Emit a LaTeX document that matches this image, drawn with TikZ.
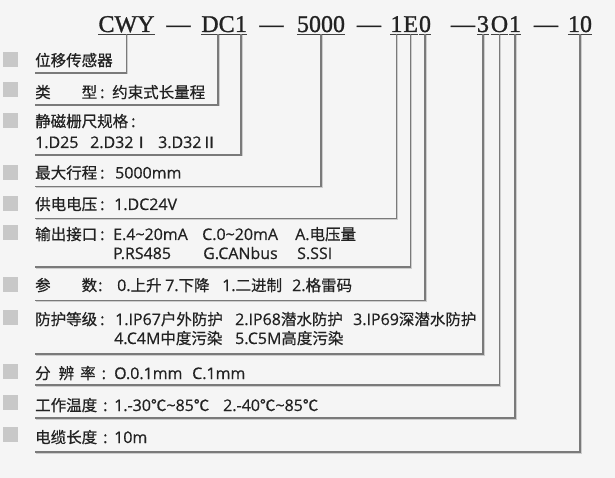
\documentclass[tikz,border=0pt]{standalone}
\usepackage{fontspec}
\setmainfont{Liberation Serif}[FakeBold=1.2]
\newfontfamily\cjk{Noto Sans CJK SC}[FakeBold=0.6]
\newfontfamily\latin{Open Sans}[Scale=1.03, FakeBold=0.6]
\newcommand{\zh}[1]{{\cjk #1}}
\definecolor{PageGray}{RGB}{245,245,245}
\definecolor{BoxGray}{RGB}{200,200,200}
\definecolor{LeadGray}{RGB}{122,122,122}
\definecolor{LeadShade}{RGB}{205,205,205}
\definecolor{InkGray}{RGB}{34,34,34}

\begin{document}
\begin{tikzpicture}[x=1pt, y=-1pt,
  code/.style={font=\fontsize{24}{24}\selectfont, text=InkGray, inner sep=0pt, text depth=2pt, anchor=base},
  spec/.style={font=\latin\fontsize{15.5}{18}\selectfont, text=InkGray, inner sep=0pt, anchor=base west},
  marker/.style={fill=BoxGray, minimum width=15pt, minimum height=15pt, inner sep=0pt},
  lead/.style={draw=LeadGray, line width=1.2pt, preaction={draw=LeadShade, line width=1.2pt, transform canvas={shift={(0.9pt,-0.9pt)}}}},
  uline/.style={draw=InkGray!85, line width=1pt}]
\pgfmathsetmacro{\xl}{35} % left end of the leads
\pgfmathsetmacro{\xv}{114} % x of the values
\pgfmathsetmacro{\yc}{32} % baseline of the code

\fill[PageGray] (0,0) rectangle (615,478); % page

% code on top
\node[code] (cwy) at (126.5,\yc) {CWY};
\node[code] (dashA) at (178.5,\yc) {—};
\node[code] (dc) at (218,\yc) {DC};
\node[code] (mag) at (241,\yc) {1};
\node[code] (dashB) at (271.5,\yc) {—};
\node[code] (stroke) at (321,\yc) {5000};
\node[code] (dashC) at (369,\yc) {—};
\node[code] (volt) at (396.5,\yc) {1};
\node[code] (iface) at (410.7,\yc) {E};
\node[code] (para) at (425,\yc) {0};
\node[code] (dashD) at (463,\yc) {—};
\node[code] (prot) at (483,\yc) {3};
\node[code] (res) at (499.5,\yc) {O};
\node[code] (temp) at (515,\yc) {1};
\node[code] (dashE) at (546,\yc) {—};
\node[code] (cable) at (580,\yc) {10};
\foreach \n in {cwy,dc,mag,stroke,volt,iface,para,prot,res,temp,cable}
  \draw[uline] (\n.south west) -- (\n.south east); % underline

% ends of the leads
\coordinate (r1) at (\xl,73);
\coordinate (r2) at (\xl,105);
\coordinate (r3) at (\xl,155);
\coordinate (r4) at (\xl,186.5);
\coordinate (r5) at (\xl,218.5);
\coordinate (r6) at (\xl,267);
\coordinate (r7) at (\xl,300.5);
\coordinate (r8) at (\xl,354);
\coordinate (r9) at (\xl,385);
\coordinate (r10) at (\xl,418);
\coordinate (r11) at (\xl,452);

\draw[lead] (cwy.south) |- (r1);
\draw[lead] (dc.south) |- (r2);
\draw[lead] (mag.south) |- (r3);
\draw[lead] (stroke.south) |- (r4);
\draw[lead] (volt.south) |- (r5);
\draw[lead] (iface.south) |- (r6);
\draw[lead] (para.south) |- (r7);
\draw[lead] (prot.south) |- (r8);
\draw[lead] (res.south) |- (r9);
\draw[lead] (temp.south) |- (r10);
\draw[lead] (cable.south) |- (r11);

% grey squares
\foreach \ym [count=\i] in {59.5,90,120.5,172.5,203.5,232.5,284.5,317.5,371.5,402.5,434.5}
  \node[marker] (m\i) at (10.5,\ym) {};

% texts
\node[spec] (sensor) at (\xl,66) {\zh{位移传感器}};
\node[spec] (type) at (\xl,98) {\zh{类　　型}\hspace{3pt}:};
\node[spec] (typev) at (112,98) {\zh{约束式长量程}};
\node[spec] (scale) at (\xl,127) {\zh{静磁栅尺规格}\hspace{3pt}:};
\node[spec] (scaleA) at (\xl,148) {1.D25};
\node[spec] (scaleB) at (90,148) {2.D32\zh{Ⅰ}};
\node[spec] (scaleC) at (158,148) {3.D32\zh{Ⅱ}};
\node[spec] (len) at (\xl,178.5) {\zh{最大行程}\hspace{3pt}:};
\node[spec] (lenv) at (115,178.5) {5000mm};
\node[spec] (pow) at (\xl,210) {\zh{供电电压}\hspace{3pt}:};
\node[spec] (powv) at (\xv,210) {1.DC24V};
\node[spec] (outp) at (\xl,240) {\zh{输出接口}\hspace{3pt}:};
\node[spec] (outE) at (113,240) {E.4\textasciitilde20mA};
\node[spec] (outC) at (202,240) {C.0\textasciitilde20mA};
\node[spec] (outA) at (295,240) {A.\zh{电压量}};
\node[spec] (outP) at (113,259) {P.RS485};
\node[spec] (outG) at (203,259) {G.CANbus};
\node[spec] (outS) at (297,259) {S.SSI};
\node[spec] (par) at (\xl,291) {\zh{参　　数}\hspace{1pt}:};
\node[spec] (par0) at (117,291) {0.\zh{上升}};
\node[spec] (par7) at (165,291) {7.\zh{下降}};
\node[spec] (par1) at (222,291) {1.\zh{二进制}};
\node[spec] (par2) at (292,291) {2.\zh{格雷码}};
\node[spec] (ip) at (\xl,325) {\zh{防护等级}\hspace{3pt}:};
\node[spec] (ip1) at (115,325) {1.IP67\zh{户外防护}};
\node[spec] (ip2) at (235,325) {2.IP68\zh{潜水防护}};
\node[spec] (ip3) at (353,325) {3.IP69\zh{深潜水防护}};
\node[spec] (ip4) at (\xv,344) {4.C4M\zh{中度污染}};
\node[spec] (ip5) at (235,344) {5.C5M\zh{高度污染}};
\node[spec] (rsl) at (\xl,379) {\zh{分}\hspace{8pt}\zh{辨}\hspace{6pt}\zh{率}\hspace{6pt}:};
\node[spec] (rslO) at (\xv,379) {O.0.1mm};
\node[spec] (rslC) at (192,379) {C.1mm};
\node[spec] (tmp) at (\xl,411) {\zh{工作温度}\hspace{6pt}:};
\node[spec] (tmp1) at (\xv,411) {1.-30\zh{℃}\textasciitilde85\zh{℃}};
\node[spec] (tmp2) at (223,411) {2.-40\zh{℃}\textasciitilde85\zh{℃}};
\node[spec] (cab) at (\xl,443) {\zh{电缆长度}\hspace{6pt}:};
\node[spec] (cabv) at (\xv,443) {10m};
\end{tikzpicture}
\end{document}
